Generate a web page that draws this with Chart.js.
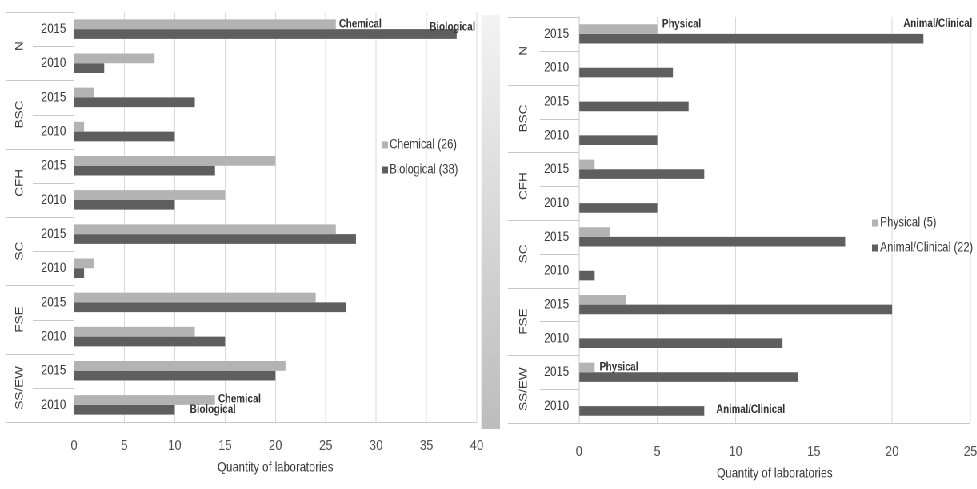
<!DOCTYPE html>
<html>
<head>
<meta charset="utf-8">
<script src="https://cdn.jsdelivr.net/npm/chart.js@4.4.1/dist/chart.umd.min.js"></script>
<style>
  body { margin: 0; background: #fff; width: 977px; height: 489px; overflow: hidden; position: relative; }
  /* the source figure is squeezed sideways, so draw wide and squeeze the whole stage */
  #stage { position: absolute; left: 0; top: 0; width: 1222px; height: 489px; overflow: hidden;
           transform: scaleX(0.8); transform-origin: 0 0; }
  #leftBox { position: absolute; left: 0; top: 0; }
  #rightBox { position: absolute; left: 625px; top: 0; }
  #strip { position: absolute; left: 602px; top: 15px; width: 23px; height: 414px;
           background: linear-gradient(#f3f3f3, #bdbdbd); }
</style>
</head>
<body>
<div id="stage">
  <div id="strip"></div>
  <canvas id="leftBox" width="616" height="489"></canvas>
  <canvas id="rightBox" width="608" height="489"></canvas>
</div>
<script>
// data, rows go N 2015, N 2010, BSC 2015, ...
const groups = ['N', 'BSC', 'CFH', 'SC', 'FSE', 'SS/EW'];
const years = ['2015', '2010'];
const rowLabels = groups.flatMap(() => years);

const chemical   = [26, 8, 2, 1, 20, 15, 26, 2, 24, 12, 21, 14];
const biological = [38, 3, 12, 10, 14, 10, 28, 1, 27, 15, 20, 10];
const physical       = [5, 0, 0, 0, 1, 0, 2, 0, 3, 0, 1, 0];
const animalClinical = [22, 6, 7, 5, 8, 5, 17, 1, 20, 13, 14, 8];

const leftMax = 40, rightMax = 25, tickStep = 5;
const axisTitle = 'Quantity of laboratories';

const FONT = '"Liberation Sans", Arial, sans-serif';
const LIGHT = '#b3b3b3';
const DARK = '#5e5e5e';
const TEXT = '#3a3a3a';

// draws the two-level category axis, the legend box and the few bar notes
const groupAxis = {
  id: 'groupAxis',
  afterDatasetsDraw(chart, args, opts) {
    const ctx = chart.ctx;
    const y = chart.scales.y;
    const area = chart.chartArea;
    const slot = y.getPixelForValue(1) - y.getPixelForValue(0);

    ctx.save();
    ctx.strokeStyle = '#c8c8c8';
    ctx.lineWidth = 1;
    rowLabels.forEach((_, i) => {
      const top = Math.round(y.getPixelForValue(i) - slot / 2) + 0.5;
      const from = i % 2 === 0 ? opts.groupLeft : opts.yearLeft;
      ctx.beginPath(); ctx.moveTo(from, top); ctx.lineTo(area.left, top); ctx.stroke();
    });
    const bot = Math.round(area.bottom) + 0.5;
    ctx.beginPath(); ctx.moveTo(opts.groupLeft, bot); ctx.lineTo(area.right, bot); ctx.stroke();

    // group names, rotated
    ctx.fillStyle = TEXT;
    ctx.font = '13.5px ' + FONT;
    ctx.textAlign = 'center';
    ctx.textBaseline = 'middle';
    groups.forEach((g, k) => {
      const cy = (y.getPixelForValue(2 * k) + y.getPixelForValue(2 * k + 1)) / 2;
      ctx.save();
      ctx.translate(opts.groupX, cy);
      ctx.rotate(-Math.PI / 2);
      ctx.fillText(g, 0, 0);
      ctx.restore();
    });

    // legend
    ctx.font = '13.5px ' + FONT;
    ctx.textAlign = 'left';
    chart.data.datasets.forEach((ds, k) => {
      const ly = opts.legendY + k * 25;
      ctx.fillStyle = ds.backgroundColor;
      ctx.fillRect(opts.legendX, ly - 3.5, 8, 7);
      ctx.fillStyle = TEXT;
      ctx.fillText(ds.label, opts.legendX + 10, ly);
    });

    // notes next to bars
    ctx.font = 'bold 12px ' + FONT;
    ctx.fillStyle = '#333';
    opts.notes.forEach(n => {
      const bar = chart.getDatasetMeta(n.ds).data[n.row];
      ctx.fillText(n.text, bar.x + n.dx, bar.y + n.dy);
    });
    ctx.restore();
  }
};

function makeChart(canvas, sets, max, o) {
  return new Chart(canvas, {
    type: 'bar',
    data: {
      labels: rowLabels,
      datasets: sets.map(s => ({
        label: s.label,
        data: s.data,
        backgroundColor: s.color,
        borderWidth: 0,
        categoryPercentage: 0.57,
        barPercentage: 1
      }))
    },
    plugins: [groupAxis],
    options: {
      indexAxis: 'y',
      responsive: false,
      animation: false,
      devicePixelRatio: 2,
      layout: { padding: o.padding },
      plugins: {
        legend: { display: false },
        tooltip: { enabled: false },
        groupAxis: o.axis
      },
      scales: {
        x: {
          min: 0, max,
          ticks: { stepSize: tickStep, color: '#505050', font: { family: FONT, size: 15 }, padding: 0 },
          grid: { color: '#d9d9d9', drawTicks: true, tickLength: o.tickGap, tickColor: 'rgba(0,0,0,0)' },
          border: { display: false },
          title: { display: true, text: axisTitle, color: TEXT, font: { family: FONT, size: 14 }, padding: 0 },
          afterFit(s) { s.height = o.xHeight; }
        },
        y: {
          ticks: { color: TEXT, font: { family: FONT, size: 14 }, padding: 0 },
          grid: { drawOnChartArea: false, drawTicks: true, tickLength: o.yearGap, tickColor: 'rgba(0,0,0,0)' },
          border: { display: true, color: '#c8c8c8' },
          afterFit(s) { s.width = o.yWidth; }
        }
      }
    }
  });
}

makeChart(document.getElementById('leftBox'), [
  { label: 'Chemical (26)', data: chemical, color: LIGHT },
  { label: 'Biological (38)', data: biological, color: DARK }
], leftMax, {
  padding: { top: 12, right: 20, bottom: 13, left: 0 },
  tickGap: 15, xHeight: 54, yWidth: 92.5, yearGap: 10,
  axis: {
    groupLeft: 7.5, yearLeft: 41, groupX: 25, legendX: 477, legendY: 145,
    notes: [
      { ds: 0, row: 0, text: 'Chemical', dx: 4, dy: 0 },
      { ds: 1, row: 0, text: 'Biological', dx: -34, dy: -7 },
      { ds: 0, row: 11, text: 'Chemical', dx: 4, dy: -1 },
      { ds: 1, row: 11, text: 'Biological', dx: 19, dy: 0 }
    ]
  }
});

makeChart(document.getElementById('rightBox'), [
  { label: 'Physical (5)', data: physical, color: LIGHT },
  { label: 'Animal/Clinical (22)', data: animalClinical, color: DARK }
], rightMax, {
  padding: { top: 17, right: 20, bottom: 7, left: 0 },
  tickGap: 20, xHeight: 59, yWidth: 98.75, yearGap: 12.5,
  axis: {
    groupLeft: 10, yearLeft: 50, groupX: 30, legendX: 465, legendY: 223,
    notes: [
      { ds: 0, row: 0, text: 'Physical', dx: 6, dy: -5 },
      { ds: 1, row: 0, text: 'Animal/Clinical', dx: -25, dy: -15 },
      { ds: 0, row: 10, text: 'Physical', dx: 6, dy: 0 },
      { ds: 1, row: 11, text: 'Animal/Clinical', dx: 15, dy: -1 }
    ]
  }
});
</script>
</body>
</html>
